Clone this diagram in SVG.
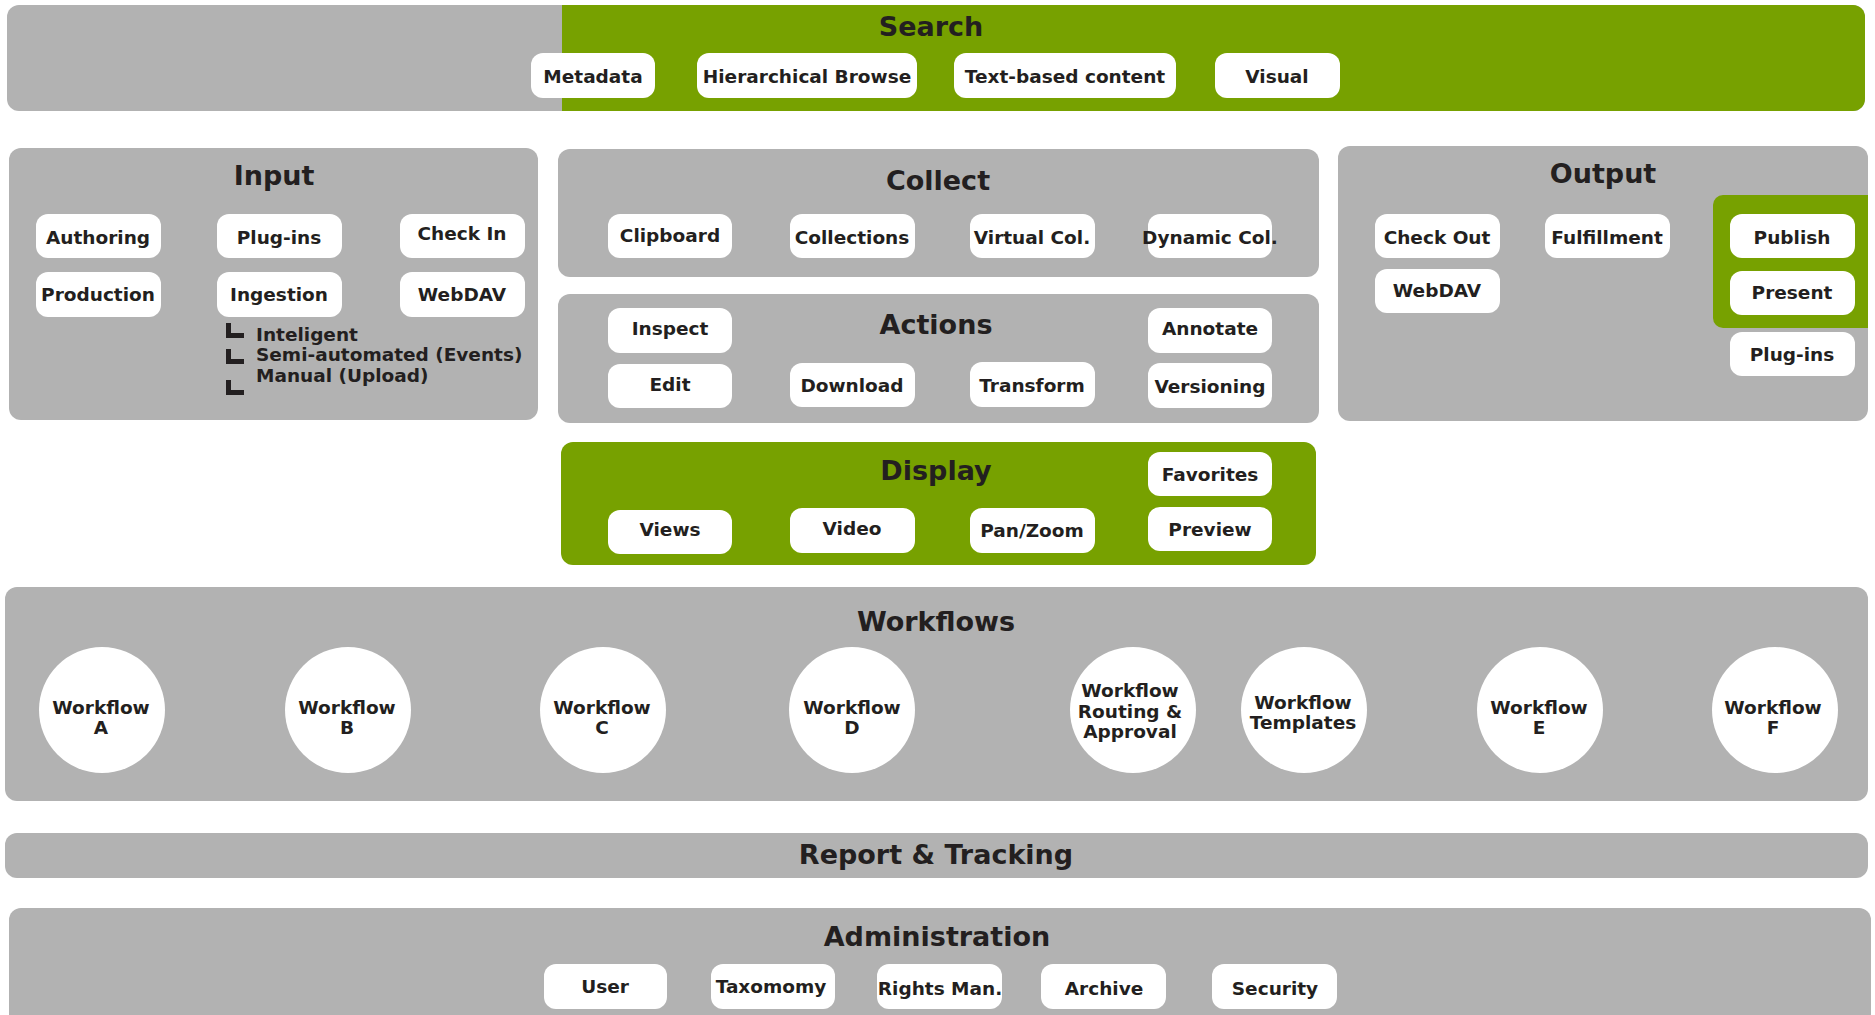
<svg xmlns="http://www.w3.org/2000/svg" width="1875" height="1015" viewBox="0 0 1875 1015">
<style>
.p{fill:#b2b2b2}
.g{fill:#77a100}
.b{fill:#ffffff}
text{font-family:"DejaVu Sans","Verdana",sans-serif;font-weight:bold;fill:#231f20;text-anchor:middle}
.t{font-size:27px}
.s{font-size:18.5px}
.l{text-anchor:start}
.bul{fill:none;stroke:#231f20;stroke-width:5}
</style>
<rect width="1875" height="1015" fill="#ffffff"/>

<g id="search">
<rect class="p" x="7" y="5" width="1858" height="106" rx="12"/>
<path class="g" d="M562 5 H1853 A12 12 0 0 1 1865 17 V99 A12 12 0 0 1 1853 111 H562 Z"/>
<text class="t" x="931" y="36">Search</text>
<g id="s-metadata"><rect class="b" x="531" y="53" width="124" height="45" rx="12"/><text class="s" x="593" y="83">Metadata</text></g>
<g id="s-hier"><rect class="b" x="697" y="53" width="220" height="45" rx="12"/><text class="s" x="807" y="83">Hierarchical Browse</text></g>
<g id="s-text"><rect class="b" x="954" y="53" width="222" height="45" rx="12"/><text class="s" x="1065" y="83">Text-based content</text></g>
<g id="s-visual"><rect class="b" x="1215" y="53" width="125" height="45" rx="12"/><text class="s" x="1277" y="83">Visual</text></g>
</g>

<g id="input">
<rect class="p" x="9" y="148" width="529" height="272" rx="12"/>
<text class="t" x="274" y="185">Input</text>
<g id="i-authoring"><rect class="b" x="36" y="214" width="125" height="44" rx="12"/><text class="s" x="98" y="244">Authoring</text></g>
<g id="i-plugins"><rect class="b" x="217" y="214" width="125" height="44" rx="12"/><text class="s" x="279" y="244">Plug-ins</text></g>
<g id="i-checkin"><rect class="b" x="400" y="214" width="125" height="44" rx="12"/><text class="s" x="462" y="240">Check In</text></g>
<g id="i-production"><rect class="b" x="36" y="272" width="125" height="45" rx="12"/><text class="s" x="98" y="301">Production</text></g>
<g id="i-ingestion"><rect class="b" x="217" y="272" width="125" height="45" rx="12"/><text class="s" x="279" y="301">Ingestion</text></g>
<g id="i-webdav"><rect class="b" x="400" y="272" width="125" height="45" rx="12"/><text class="s" x="462" y="301">WebDAV</text></g>
<g id="i-sublist">
<path class="bul" d="M228.5 323 V335.5 H244"/>
<path class="bul" d="M228.5 349 V361.5 H244"/>
<path class="bul" d="M228.5 380 V392.5 H244"/>
<text class="s l" x="256" y="341">Inteligent</text>
<text class="s l" x="256" y="361">Semi-automated (Events)</text>
<text class="s l" x="256" y="382">Manual (Upload)</text>
</g>
</g>

<g id="collect">
<rect class="p" x="558" y="149" width="761" height="128" rx="12"/>
<text class="t" x="938" y="190">Collect</text>
<g id="c-clipboard"><rect class="b" x="608" y="214" width="124" height="44" rx="12"/><text class="s" x="670" y="242">Clipboard</text></g>
<g id="c-collections"><rect class="b" x="790" y="214" width="125" height="44" rx="12"/><text class="s" x="852" y="244">Collections</text></g>
<g id="c-virtual"><rect class="b" x="970" y="214" width="125" height="44" rx="12"/><text class="s" x="1032" y="244">Virtual Col.</text></g>
<g id="c-dynamic"><rect class="b" x="1148" y="214" width="124" height="44" rx="12"/><text class="s" x="1210" y="244">Dynamic Col.</text></g>
</g>

<g id="actions">
<rect class="p" x="558" y="294" width="761" height="129" rx="12"/>
<text class="t" x="936" y="334">Actions</text>
<g id="a-inspect"><rect class="b" x="608" y="308" width="124" height="45" rx="12"/><text class="s" x="670" y="335">Inspect</text></g>
<g id="a-edit"><rect class="b" x="608" y="364" width="124" height="44" rx="12"/><text class="s" x="670" y="391">Edit</text></g>
<g id="a-download"><rect class="b" x="790" y="363" width="125" height="44" rx="12"/><text class="s" x="852" y="392">Download</text></g>
<g id="a-transform"><rect class="b" x="970" y="362" width="125" height="45" rx="12"/><text class="s" x="1032" y="392">Transform</text></g>
<g id="a-annotate"><rect class="b" x="1148" y="308" width="124" height="45" rx="12"/><text class="s" x="1210" y="335">Annotate</text></g>
<g id="a-versioning"><rect class="b" x="1148" y="363" width="124" height="45" rx="12"/><text class="s" x="1210" y="393">Versioning</text></g>
</g>

<g id="output">
<rect class="p" x="1338" y="146" width="530" height="275" rx="12"/>
<path class="g" d="M1868 195 H1723 A10 10 0 0 0 1713 205 V318 A10 10 0 0 0 1723 328 H1868 Z"/>
<text class="t" x="1603" y="183">Output</text>
<g id="o-checkout"><rect class="b" x="1375" y="214" width="125" height="44" rx="12"/><text class="s" x="1437" y="244">Check Out</text></g>
<g id="o-fulfillment"><rect class="b" x="1545" y="214" width="125" height="44" rx="12"/><text class="s" x="1607" y="244">Fulfillment</text></g>
<g id="o-webdav"><rect class="b" x="1375" y="269" width="125" height="44" rx="12"/><text class="s" x="1437" y="297">WebDAV</text></g>
<g id="o-publish"><rect class="b" x="1730" y="214" width="125" height="44" rx="12"/><text class="s" x="1792" y="244">Publish</text></g>
<g id="o-present"><rect class="b" x="1730" y="271" width="125" height="44" rx="12"/><text class="s" x="1792" y="299">Present</text></g>
<g id="o-plugins"><rect class="b" x="1730" y="332" width="125" height="44" rx="12"/><text class="s" x="1792" y="361">Plug-ins</text></g>
</g>

<g id="display">
<rect class="g" x="561" y="442" width="755" height="123" rx="12"/>
<text class="t" x="936" y="480">Display</text>
<g id="d-favorites"><rect class="b" x="1148" y="452" width="124" height="44" rx="12"/><text class="s" x="1210" y="481">Favorites</text></g>
<g id="d-preview"><rect class="b" x="1148" y="507" width="124" height="44" rx="12"/><text class="s" x="1210" y="536">Preview</text></g>
<g id="d-views"><rect class="b" x="608" y="510" width="124" height="44" rx="12"/><text class="s" x="670" y="536">Views</text></g>
<g id="d-video"><rect class="b" x="790" y="508" width="125" height="45" rx="12"/><text class="s" x="852" y="535">Video</text></g>
<g id="d-panzoom"><rect class="b" x="970" y="508" width="125" height="45" rx="12"/><text class="s" x="1032" y="537">Pan/Zoom</text></g>
</g>

<g id="workflows">
<rect class="p" x="5" y="587" width="1863" height="214" rx="12"/>
<text class="t" x="936" y="631">Workflows</text>
<g id="w-a"><circle class="b" cx="102" cy="710" r="63"/><text class="s" x="101" y="714">Workflow</text><text class="s" x="101" y="734">A</text></g>
<g id="w-b"><circle class="b" cx="348" cy="710" r="63"/><text class="s" x="347" y="714">Workflow</text><text class="s" x="347" y="734">B</text></g>
<g id="w-c"><circle class="b" cx="603" cy="710" r="63"/><text class="s" x="602" y="714">Workflow</text><text class="s" x="602" y="734">C</text></g>
<g id="w-d"><circle class="b" cx="852" cy="710" r="63"/><text class="s" x="852" y="714">Workflow</text><text class="s" x="852" y="734">D</text></g>
<g id="w-routing"><circle class="b" cx="1133" cy="710" r="63"/><text class="s" x="1130" y="697">Workflow</text><text class="s" x="1130" y="718">Routing &amp;</text><text class="s" x="1130" y="738">Approval</text></g>
<g id="w-templates"><circle class="b" cx="1304" cy="710" r="63"/><text class="s" x="1303" y="709">Workflow</text><text class="s" x="1303" y="729">Templates</text></g>
<g id="w-e"><circle class="b" cx="1540" cy="710" r="63"/><text class="s" x="1539" y="714">Workflow</text><text class="s" x="1539" y="734">E</text></g>
<g id="w-f"><circle class="b" cx="1775" cy="710" r="63"/><text class="s" x="1773" y="714">Workflow</text><text class="s" x="1773" y="734">F</text></g>
</g>

<g id="report">
<rect class="p" x="5" y="833" width="1863" height="45" rx="12"/>
<text class="t" x="936" y="864">Report &amp; Tracking</text>
</g>

<g id="administration">
<rect class="p" x="9" y="908" width="1862" height="125" rx="12"/>
<text class="t" x="937" y="946">Administration</text>
<g id="ad-user"><rect class="b" x="544" y="964" width="123" height="45" rx="12"/><text class="s" x="605" y="993">User</text></g>
<g id="ad-tax"><rect class="b" x="711" y="964" width="124" height="45" rx="12"/><text class="s" x="771" y="993">Taxomomy</text></g>
<g id="ad-rights"><rect class="b" x="877" y="964" width="125" height="45" rx="12"/><text class="s" x="940" y="995">Rights Man.</text></g>
<g id="ad-archive"><rect class="b" x="1041" y="964" width="125" height="45" rx="12"/><text class="s" x="1104" y="995">Archive</text></g>
<g id="ad-security"><rect class="b" x="1212" y="964" width="125" height="45" rx="12"/><text class="s" x="1275" y="995">Security</text></g>
</g>

<g id="connectors"></g>
</svg>
